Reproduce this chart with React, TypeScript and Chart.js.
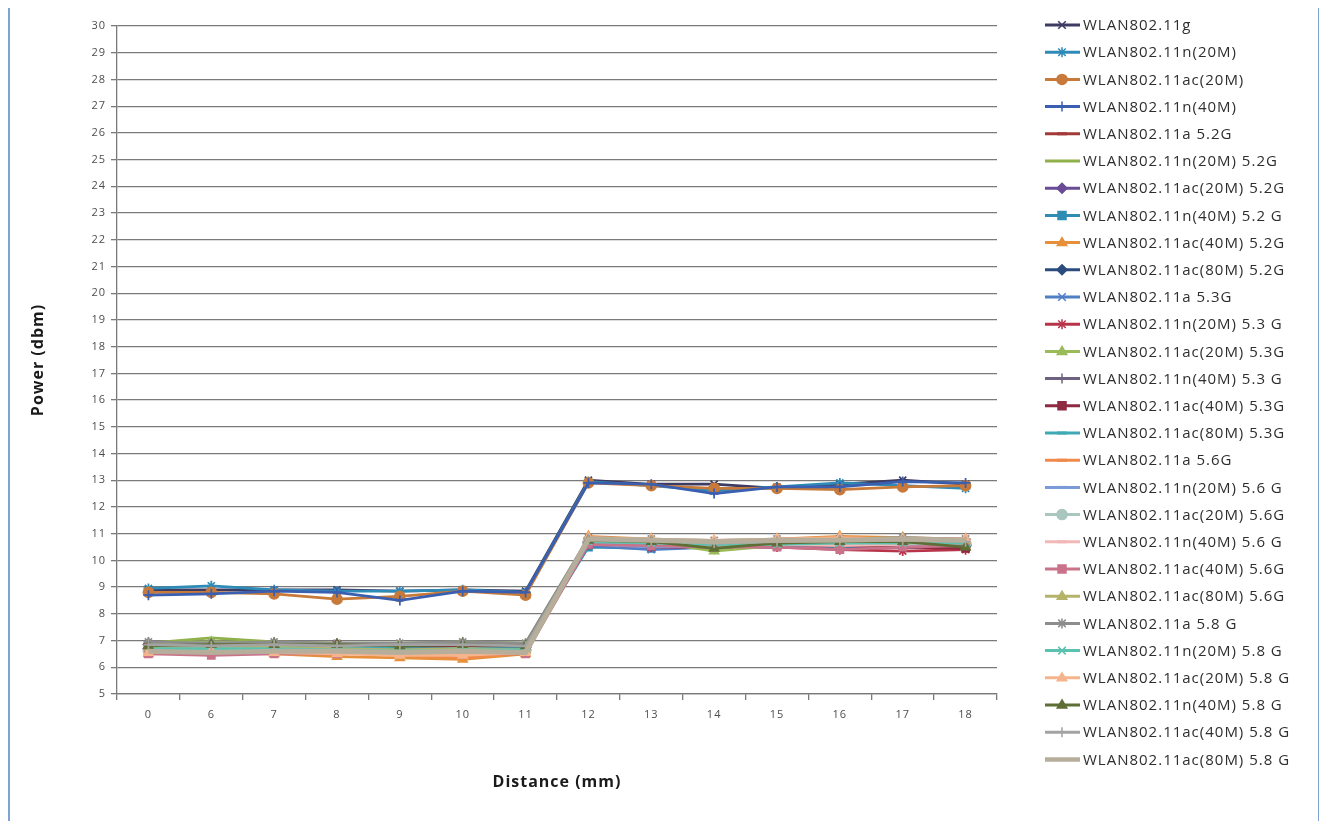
import React, { useEffect, useRef } from "react";
import { Chart, registerables } from "chart.js";

Chart.register(...registerables);

const categories = ["0", "6", "7", "8", "9", "10", "11", "12", "13", "14", "15", "16", "17", "18"];

const seriesNames = [
  "WLAN802.11g",
  "WLAN802.11n(20M)",
  "WLAN802.11ac(20M)",
  "WLAN802.11n(40M)",
  "WLAN802.11a 5.2G",
  "WLAN802.11n(20M) 5.2G",
  "WLAN802.11ac(20M) 5.2G",
  "WLAN802.11n(40M) 5.2 G",
  "WLAN802.11ac(40M) 5.2G",
  "WLAN802.11ac(80M) 5.2G",
  "WLAN802.11a 5.3G",
  "WLAN802.11n(20M) 5.3 G",
  "WLAN802.11ac(20M) 5.3G",
  "WLAN802.11n(40M) 5.3 G",
  "WLAN802.11ac(40M) 5.3G",
  "WLAN802.11ac(80M) 5.3G",
  "WLAN802.11a 5.6G",
  "WLAN802.11n(20M) 5.6 G",
  "WLAN802.11ac(20M) 5.6G",
  "WLAN802.11n(40M) 5.6 G",
  "WLAN802.11ac(40M) 5.6G",
  "WLAN802.11ac(80M) 5.6G",
  "WLAN802.11a 5.8 G",
  "WLAN802.11n(20M) 5.8 G",
  "WLAN802.11ac(20M) 5.8 G",
  "WLAN802.11n(40M) 5.8 G",
  "WLAN802.11ac(40M) 5.8 G",
  "WLAN802.11ac(80M) 5.8 G",
];

// 2.4G
const g24 = [8.9, 8.9, 8.9, 8.9, 8.85, 8.9, 8.85, 13.0, 12.85, 12.85, 12.7, 12.85, 13.0, 12.85];
const n20_24 = [8.95, 9.05, 8.9, 8.85, 8.85, 8.9, 8.8, 12.95, 12.8, 12.6, 12.75, 12.9, 12.8, 12.7];
const ac20_24 = [8.8, 8.8, 8.75, 8.55, 8.65, 8.85, 8.7, 12.9, 12.8, 12.7, 12.7, 12.65, 12.75, 12.8];
const n40_24 = [8.7, 8.75, 8.85, 8.8, 8.5, 8.85, 8.8, 12.9, 12.85, 12.5, 12.75, 12.75, 12.95, 12.9];
// 5.2G
const a52 = [6.8, 6.8, 6.75, 6.8, 6.7, 6.75, 6.7, 10.6, 10.6, 10.5, 10.55, 10.6, 10.55, 10.5];
const n20_52 = [6.9, 7.1, 6.95, 6.9, 6.9, 6.95, 6.9, 10.8, 10.75, 10.6, 10.7, 10.75, 10.8, 10.7];
const ac20_52 = [6.7, 6.65, 6.7, 6.75, 6.6, 6.7, 6.65, 10.7, 10.65, 10.55, 10.6, 10.7, 10.65, 10.6];
const n40_52 = [6.6, 6.6, 6.65, 6.7, 6.55, 6.7, 6.7, 10.5, 10.45, 10.5, 10.6, 10.5, 10.5, 10.55];
const ac40_52 = [6.5, 6.55, 6.5, 6.4, 6.35, 6.3, 6.5, 10.9, 10.8, 10.7, 10.8, 10.9, 10.85, 10.8];
const ac80_52 = [6.85, 6.8, 6.8, 6.85, 6.8, 6.8, 6.75, 10.65, 10.6, 10.45, 10.55, 10.6, 10.6, 10.55];
// 5.3G
const a53 = [6.7, 6.7, 6.7, 6.7, 6.7, 6.75, 6.7, 10.55, 10.4, 10.5, 10.5, 10.55, 10.5, 10.5];
const n20_53 = [6.75, 6.8, 6.75, 6.7, 6.6, 6.65, 6.6, 10.6, 10.5, 10.5, 10.5, 10.4, 10.35, 10.4];
const ac20_53 = [6.9, 6.95, 6.9, 6.85, 6.85, 6.9, 6.85, 10.75, 10.7, 10.35, 10.55, 10.6, 10.7, 10.5];
const n40_53 = [6.85, 6.75, 6.85, 6.8, 6.85, 6.85, 6.8, 10.7, 10.6, 10.5, 10.6, 10.65, 10.6, 10.6];
const ac40_53 = [6.75, 6.75, 6.8, 6.85, 6.75, 6.75, 6.7, 10.6, 10.55, 10.5, 10.55, 10.55, 10.5, 10.45];
const ac80_53 = [6.8, 6.75, 6.75, 6.75, 6.7, 6.7, 6.7, 10.65, 10.6, 10.55, 10.6, 10.65, 10.6, 10.55];
// 5.6G
const a56 = [6.65, 6.7, 6.6, 6.55, 6.45, 6.35, 6.55, 10.75, 10.75, 10.7, 10.8, 10.85, 10.8, 10.8];
const n20_56 = [6.6, 6.6, 6.6, 6.55, 6.5, 6.5, 6.6, 10.6, 10.5, 10.55, 10.55, 10.6, 10.6, 10.6];
const ac20_56 = [6.6, 6.55, 6.65, 6.6, 6.6, 6.7, 6.6, 10.7, 10.65, 10.6, 10.65, 10.7, 10.65, 10.65];
const n40_56 = [6.55, 6.6, 6.55, 6.5, 6.55, 6.55, 6.55, 10.75, 10.7, 10.65, 10.6, 10.55, 10.6, 10.65];
const ac40_56 = [6.5, 6.45, 6.5, 6.5, 6.55, 6.5, 6.5, 10.6, 10.55, 10.5, 10.5, 10.4, 10.5, 10.55];
const ac80_56 = [6.75, 6.75, 6.75, 6.7, 6.65, 6.7, 6.65, 10.8, 10.75, 10.45, 10.7, 10.8, 10.85, 10.75];
// 5.8G
const a58 = [6.95, 6.9, 6.95, 6.9, 6.9, 6.95, 6.9, 10.85, 10.8, 10.75, 10.8, 10.8, 10.85, 10.8];
const n20_58 = [6.7, 6.7, 6.7, 6.65, 6.6, 6.65, 6.65, 10.7, 10.65, 10.6, 10.6, 10.65, 10.65, 10.65];
const ac20_58 = [6.55, 6.6, 6.55, 6.5, 6.45, 6.45, 6.55, 10.85, 10.8, 10.75, 10.8, 10.85, 10.8, 10.8];
const n40_58 = [6.8, 6.85, 6.85, 6.85, 6.8, 6.85, 6.8, 10.75, 10.7, 10.45, 10.65, 10.7, 10.7, 10.5];
const ac40_58 = [6.85, 6.8, 6.85, 6.8, 6.85, 6.85, 6.8, 10.8, 10.75, 10.65, 10.7, 10.75, 10.75, 10.7];
const ac80_58 = [6.6, 6.55, 6.6, 6.6, 6.55, 6.6, 6.55, 10.8, 10.75, 10.7, 10.75, 10.75, 10.8, 10.75];

const seriesValues = [
  g24, n20_24, ac20_24, n40_24,
  a52, n20_52, ac20_52, n40_52, ac40_52, ac80_52,
  a53, n20_53, ac20_53, n40_53, ac40_53, ac80_53,
  a56, n20_56, ac20_56, n40_56, ac40_56, ac80_56,
  a58, n20_58, ac20_58, n40_58, ac40_58, ac80_58,
];

const yMin = 5;
const yMax = 30;

// styles (kept apart from data)
const seriesColors = [
  "#3d3b62", "#2e8bb8", "#c77a3a", "#3a5fb0",
  "#a33a3a", "#8fb04a", "#6a4c96", "#2f8db3", "#e7903c", "#2b4d7e",
  "#4f7fc4", "#b8344a", "#9bbb59", "#6e6280", "#8e2a42", "#3fa9b6",
  "#f08a4b", "#7a9bd8", "#a9c6bf", "#f2b8b8", "#c9738a", "#b5b36a",
  "#8d8d8d", "#5cc2b0", "#f5b48c", "#5e6e35", "#a3a3a3", "#b6ad9b",
];
const seriesMarkers = [
  "crossRot", "star", "circle", "cross",
  "dash", "line", "rectRot", "rect", "triangle", "rectRot",
  "crossRot", "star", "triangle", "cross", "rect", "dash",
  "dash", "dash", "circle", "dash", "rect", "triangle",
  "star", "crossRot", "triangle", "triangle", "cross", "none",
];

const FONT = "'Open Sans', 'Liberation Sans', sans-serif";

function drawMarker(ctx: CanvasRenderingContext2D, style: string, x: number, y: number, r: number, color: string) {
  ctx.save();
  ctx.strokeStyle = color;
  ctx.fillStyle = color;
  ctx.lineWidth = 1.5;
  ctx.beginPath();
  switch (style) {
    case "circle":
      ctx.arc(x, y, r, 0, Math.PI * 2);
      ctx.fill();
      ctx.stroke();
      break;
    case "rect":
      ctx.rect(x - r * 0.8, y - r * 0.8, r * 1.6, r * 1.6);
      ctx.fill();
      ctx.stroke();
      break;
    case "rectRot":
      ctx.moveTo(x, y - r);
      ctx.lineTo(x + r, y);
      ctx.lineTo(x, y + r);
      ctx.lineTo(x - r, y);
      ctx.closePath();
      ctx.fill();
      ctx.stroke();
      break;
    case "triangle":
      ctx.moveTo(x, y - r);
      ctx.lineTo(x + r * 0.95, y + r * 0.6);
      ctx.lineTo(x - r * 0.95, y + r * 0.6);
      ctx.closePath();
      ctx.fill();
      ctx.stroke();
      break;
    case "cross":
      ctx.moveTo(x, y - r);
      ctx.lineTo(x, y + r);
      ctx.moveTo(x - r, y);
      ctx.lineTo(x + r, y);
      ctx.stroke();
      break;
    case "crossRot":
      ctx.moveTo(x - r * 0.75, y - r * 0.75);
      ctx.lineTo(x + r * 0.75, y + r * 0.75);
      ctx.moveTo(x + r * 0.75, y - r * 0.75);
      ctx.lineTo(x - r * 0.75, y + r * 0.75);
      ctx.stroke();
      break;
    case "star":
      ctx.moveTo(x - r * 0.75, y - r * 0.75);
      ctx.lineTo(x + r * 0.75, y + r * 0.75);
      ctx.moveTo(x + r * 0.75, y - r * 0.75);
      ctx.lineTo(x - r * 0.75, y + r * 0.75);
      ctx.moveTo(x, y - r);
      ctx.lineTo(x, y + r);
      ctx.stroke();
      break;
    case "dash":
      ctx.moveTo(x - r, y);
      ctx.lineTo(x + r, y);
      ctx.lineWidth = 3;
      ctx.stroke();
      break;
    default:
      break;
  }
  ctx.restore();
}

const spacingPlugin = {
  id: "spacing",
  beforeDraw(chart: any) {
    (chart.ctx as any).letterSpacing = "1px";
  },
};

const legendPlugin = {
  id: "excelLegend",
  afterDraw(chart: any) {
    const ctx: CanvasRenderingContext2D = chart.ctx;
    const lineX0 = 1035;
    const lineX1 = 1070;
    const markX = 1052;
    const textX = 1073;
    const y0 = 19;
    const step = 27.2;
    ctx.save();
    (ctx as any).letterSpacing = "1px";
    ctx.font = `15px ${FONT}`;
    ctx.textBaseline = "middle";
    ctx.textAlign = "left";
    chart.data.datasets.forEach((ds: any, i: number) => {
      const y = y0 + i * step;
      ctx.save();
      ctx.strokeStyle = seriesColors[i];
      ctx.lineWidth = i === 27 ? 4.5 : 3;
      ctx.beginPath();
      ctx.moveTo(lineX0, y);
      ctx.lineTo(lineX1, y);
      ctx.stroke();
      ctx.restore();
      drawMarker(ctx, seriesMarkers[i], markX, y, 5, seriesColors[i]);
      ctx.fillStyle = "#2e2e2e";
      ctx.fillText(ds.label, textX, y + 1);
    });
    ctx.restore();
  },
};

export default function App() {
  const canvasRef = useRef<HTMLCanvasElement | null>(null);

  useEffect(() => {
    if (!canvasRef.current) return;
    const gridColor = "#7a7a7a";
    const tickFont = { family: FONT, size: 11 };
    const chart = new Chart(canvasRef.current, {
      type: "line",
      data: {
        labels: categories,
        datasets: seriesNames.map((name, i) => ({
          label: name,
          data: seriesValues[i],
          borderColor: seriesColors[i],
          backgroundColor: seriesColors[i],
          borderWidth: i === 27 ? 5 : 2.75,
          pointStyle: seriesMarkers[i] === "none" ? false : (seriesMarkers[i] as any),
          pointRadius: seriesMarkers[i] === "none" ? 0 : 5,
          pointBorderWidth: 1.75,
          pointBorderColor: seriesColors[i],
          pointBackgroundColor: seriesColors[i],
          tension: 0,
          fill: false,
          order: 27 - i,
        })),
      },
      options: {
        responsive: true,
        maintainAspectRatio: false,
        animation: false,
        events: [],
        layout: { padding: { left: 0, right: 321, top: 20, bottom: 27 } },
        plugins: {
          legend: { display: false },
          tooltip: { enabled: false },
          title: { display: false },
        },
        scales: {
          x: {
            type: "category",
            offset: true,
            grid: {
              display: true,
              drawOnChartArea: false,
              offset: true,
              tickLength: 6,
              color: gridColor,
              lineWidth: 1.3,
            },
            border: { display: true, color: gridColor, width: 1.3 },
            ticks: {
              font: tickFont,
              color: "#4d4d4d",
              padding: 8,
              maxRotation: 0,
              autoSkip: false,
            },
            title: {
              display: true,
              text: "Distance (mm)",
              font: { family: FONT, size: 16, weight: "bold" },
              color: "#1a1a1a",
              padding: { top: 0, bottom: 2 },
            },
            afterFit: (s: any) => {
              s.height = 100;
            },
          },
          y: {
            type: "linear",
            min: yMin,
            max: yMax,
            ticks: {
              stepSize: 1,
              font: tickFont,
              color: "#4d4d4d",
              padding: 5,
            },
            grid: { color: gridColor, tickLength: 6, lineWidth: 1.3 },
            border: { display: true, color: gridColor, width: 1.3 },
            title: {
              display: true,
              text: "Power (dbm)",
              font: { family: FONT, size: 16, weight: "bold" },
              color: "#1a1a1a",
              padding: { top: 19, bottom: 0 },
            },
            afterFit: (s: any) => {
              s.width = 107;
            },
          },
        },
      },
      plugins: [spacingPlugin, legendPlugin],
    } as any);
    return () => chart.destroy();
  }, []);

  return (
    <div
      style={{
        position: "relative",
        top: -4,
        width: 1308,
        height: 815,
        border: "2px solid #7fa3d3",
        background: "#ffffff",
      }}
    >
      <canvas ref={canvasRef} style={{ display: "block" }} />
    </div>
  );
}
